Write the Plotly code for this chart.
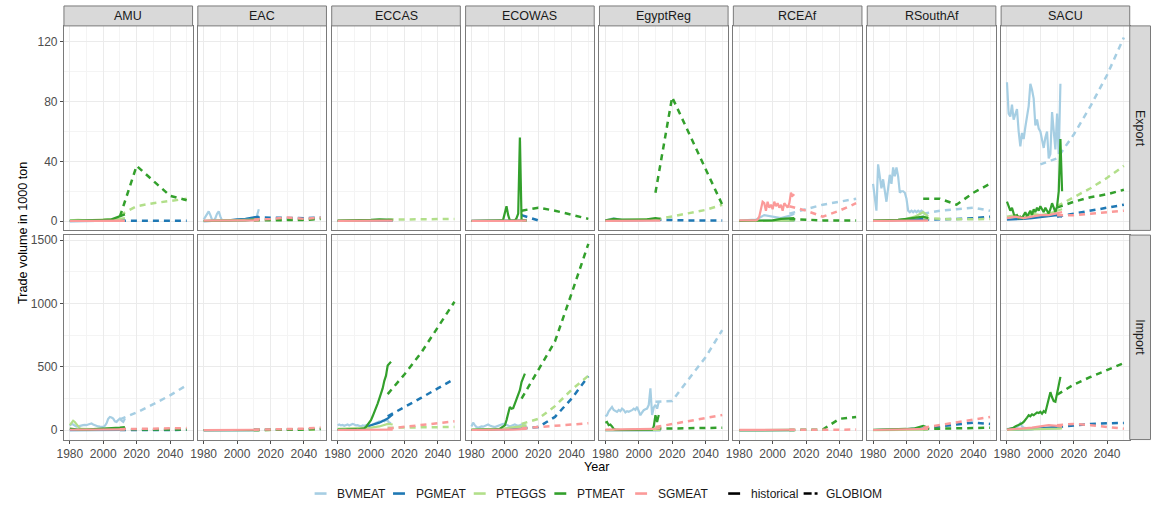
import plotly.graph_objects as go

# ---------------- categories ----------------
REGIONS = ["AMU", "EAC", "ECCAS", "ECOWAS", "EgyptReg", "RCEAf", "RSouthAf", "SACU"]
FLOWS = ["Export", "Import"]
FLOW_KEYS = {"Export": "EXP", "Import": "IMP"}
PRODUCTS = ["BVMEAT", "PGMEAT", "PTEGGS", "PTMEAT", "SGMEAT"]
TYPES = ["historical", "GLOBIOM"]

# x values (years)
HIST_YEARS = list(range(1980, 2014))                       # annual historical
HIST_YEARS_SPARSE = [1980, 1985, 1990, 1995, 2000, 2005, 2010, 2013]
GLOB_YEARS = [2000, 2010, 2020, 2030, 2040, 2050]

# tick labels
X_TICKS = [1980, 2000, 2020, 2040]
Y_TICKS_EXPORT = [0, 40, 80, 120]
Y_TICKS_IMPORT = [0, 500, 1000, 1500]

# ---------------- data: Export (1000 ton) ----------------
AMU_EXP_BVMEAT_H = [0.3, 0.2, 0.4, 0.3, 0.5, 0.4, 0.3, 0.4]
AMU_EXP_PGMEAT_H = [0.0, 0.1, 0.1, 0.2, 0.3, 0.4, 0.5, 0.4]
AMU_EXP_PGMEAT_G = [None, 0.3, 0.2, 0.2, 0.2, 0.2]
AMU_EXP_PTEGGS_H = [0.6, 0.9, 0.5, 0.7, 0.6, 0.9, 1.5, 2.0]
AMU_EXP_PTEGGS_G = [None, 4, 10, 12, 13.5, 15]
AMU_EXP_PTMEAT_H = [0.2, 0.3, 0.5, 0.4, 0.8, 1.2, 3.5, 4.5]
AMU_EXP_PTMEAT_G = [None, 3, 37, 27, 17, 14]
AMU_EXP_SGMEAT_H = [0.1, 0.2, 0.1, 0.1, 0.2, 0.2, 0.3, 0.2]

EAC_EXP_BVMEAT_H = [1, 3, 5, 6.5, 4, 1, 0.5, 2, 5, 6.5, 3, 0.5, 0.3, 0.3, 0.2, 0.3, 0.3,
                    0.2, 0.3, 0.3, 0.4, 0.3, 0.3, 0.4, 0.5, 0.4, 0.5, 0.6, 0.8, 1, 2, 1, 4, 8]
EAC_EXP_PGMEAT_H = [0.0, 0.1, 0.2, 0.5, 1.2, 1.5, 2.5, 3.0]
EAC_EXP_PGMEAT_G = [None, 2.5, 2.2, 2.2, 2.0, 2.5]
EAC_EXP_PTEGGS_H = [0.2, 0.3, 0.3, 0.4, 0.5, 0.6, 0.8, 1.0]
EAC_EXP_PTEGGS_G = [None, 1.0, 1.0, 1.5, 1.0, 2.0]
EAC_EXP_PTMEAT_H = [0.1, 0.1, 0.2, 0.2, 0.3, 0.5, 1.0, 1.2]
EAC_EXP_PTMEAT_G = [None, 0.5, 0.5, 0.5, 0.8, 1.5]
EAC_EXP_SGMEAT_H = [0.3, 0.3, 0.4, 0.3, 0.4, 0.5, 0.6, 0.5]
EAC_EXP_SGMEAT_G = [None, 1.0, 1.5, 2.5, 1.5, 2.5]

ECCAS_EXP_BVMEAT_H = [0.2, 0.2, 0.3, 0.2, 0.3, 0.3, 0.4, 0.3]
ECCAS_EXP_PGMEAT_H = [0.1, 0.1, 0.2, 0.2, 0.3, 0.3, 0.4, 0.4]
ECCAS_EXP_PTEGGS_H = [0.3, 0.3, 0.4, 0.4, 0.5, 0.6, 0.7, 0.8]
ECCAS_EXP_PTEGGS_G = [None, 1.0, 1.0, 1.0, 1.2, 1.5]
ECCAS_EXP_PTMEAT_H = [0.3, 0.3, 0.5, 0.5, 0.8, 1.2, 1.0, 0.8]
ECCAS_EXP_SGMEAT_H = [0.2, 0.2, 0.2, 0.2, 0.3, 0.3, 0.3, 0.3]

ECOWAS_EXP_BVMEAT_H = [0.3, 0.5, 0.3, 0.2, 0.2, 0.3, 0.2, 0.3]
ECOWAS_EXP_PGMEAT_H = [0.1, 0.1, 0.1, 0.2, 0.2, 0.3, 0.5, 0.5]
ECOWAS_EXP_PGMEAT_G = [None, 4, 0.5, None, None, None]
ECOWAS_EXP_PTEGGS_H = [0.1, 0.1, 0.1, 0.1, 0.2, 0.2, 0.3, 0.3]
ECOWAS_EXP_PTMEAT_H = [0.2, 0.2, 0.3, 0.2, 0.2, 0.3, 0.2, 0.2, 0.3, 0.2, 0.2, 0.3, 0.2, 0.2,
                       0.3, 0.2, 0.2, 0.3, 0.5, 1.0, 5, 10, 4, 0.5, 0.3, 0.3, 0.4, 2, 5, 56,
                       1, 0.5, 0.4, 0.3]
ECOWAS_EXP_PTMEAT_G = [None, 7, 9, 7, 4.5, 1.5]
ECOWAS_EXP_SGMEAT_H = [0.2, 0.3, 0.2, 0.2, 0.3, 0.2, 0.3, 0.3]

EgyptReg_EXP_BVMEAT_H = [0.3, 2.0, 0.5, 0.3, 0.4, 0.5, 0.6, 0.5]
EgyptReg_EXP_PGMEAT_H = [0.1, 0.2, 0.2, 0.3, 0.5, 0.8, 1.5, 1.0]
EgyptReg_EXP_PGMEAT_G = [None, 1.0, 0.5, 0.5, 0.5, 0.5]
EgyptReg_EXP_PTEGGS_H = [0.3, 0.5, 0.8, 0.6, 0.8, 1.0, 1.5, 1.2]
EgyptReg_EXP_PTEGGS_G = [None, 1.0, 3.0, 5.0, 7.5, 11.0]
EgyptReg_EXP_PTMEAT_H = [0.5, 1.5, 1.0, 0.8, 1.0, 1.2, 2.0, 1.5]
EgyptReg_EXP_PTMEAT_G = [None, 19, 83, 59, 35, 11]
EgyptReg_EXP_SGMEAT_H = [0.2, 0.3, 0.3, 0.2, 0.3, 0.3, 0.4, 0.3]

RCEAf_EXP_BVMEAT_H = [0.3, 0.5, 1.0, 4.0, 3.0, 2.0, 3.5, 5.0]
RCEAf_EXP_BVMEAT_G = [None, 5, 8, 11, 13, 15]
RCEAf_EXP_PGMEAT_H = [0.1, 0.1, 0.2, 0.2, 0.3, 0.3, 0.4, 0.3]
RCEAf_EXP_PTEGGS_H = [0.1, 0.2, 0.2, 0.3, 0.3, 0.4, 0.5, 0.4]
RCEAf_EXP_PTMEAT_H = [0.2, 0.2, 0.3, 0.3, 0.5, 1.5, 2.0, 2.0]
RCEAf_EXP_PTMEAT_G = [None, 1.5, 0.8, 0.5, 0.5, 0.5]
RCEAf_EXP_SGMEAT_H = [0.5, 0.5, 0.4, 0.5, 0.6, 0.5, 0.4, 0.5, 0.6, 0.5, 0.5, 1, 3, 8, 13, 12,
                      7, 13, 9, 11, 8, 13, 10, 12, 9, 11, 7, 12, 10, 9, 12, 19, 17, 18]
RCEAf_EXP_SGMEAT_G = [None, 10, 7, 3, 7, 12]

RSouthAf_EXP_BVMEAT_H = [25, 14, 7, 38, 30, 22, 28, 20, 13, 22, 31, 25, 36, 30, 36, 30, 19,
                         20, 20, 19, 15, 7, 6, 7, 6, 7, 6, 7, 6, 7, 6, 5, 5, 5]
RSouthAf_EXP_BVMEAT_G = [None, 5, 7, 8, 9, 7]
RSouthAf_EXP_PGMEAT_H = [0.2, 0.3, 0.3, 0.5, 0.8, 1.0, 1.5, 1.2]
RSouthAf_EXP_PGMEAT_G = [None, 1.0, 1.0, 1.5, 2.0, 3.0]
RSouthAf_EXP_PTEGGS_H = [0.3, 0.5, 0.5, 0.8, 1.5, 3.0, 6.0, 3.0]
RSouthAf_EXP_PTEGGS_G = [None, 2.0, 1.5, 1.2, 1.2, 1.5]
RSouthAf_EXP_PTMEAT_H = [0.3, 0.3, 0.5, 0.8, 1.5, 2.5, 3.0, 2.0]
RSouthAf_EXP_PTMEAT_G = [None, 15, 15, 11, 19, 25]
RSouthAf_EXP_SGMEAT_H = [0.2, 0.2, 0.3, 0.3, 0.3, 0.4, 0.4, 0.3]

SACU_EXP_BVMEAT_H = [93, 72, 70, 78, 68, 72, 75, 60, 50, 59, 55, 63, 70, 77, 92, 88, 82, 64,
                     68, 62, 60, 55, 49, 56, 60, 42, 45, 73, 62, 48, 72, 45, 92, None]
SACU_EXP_BVMEAT_G = [38, 42, 58, 77, 98, 123]
SACU_EXP_PGMEAT_H = [1.0, 1.0, 1.5, 2.0, 2.5, 3.0, 4.0, 3.0]
SACU_EXP_PGMEAT_G = [None, 3, 5, 7, 9, 11]
SACU_EXP_PTEGGS_H = [3, 4, 2, 5, 4, 5, 7, 8]
SACU_EXP_PTEGGS_G = [None, 10, 16, 22, 29, 37]
SACU_EXP_PTMEAT_H = [13, 10, 7, 9, 5, 3, 4, 2, 3, 2, 4, 6, 3, 5, 7, 4, 8, 6, 9, 7, 10, 8, 6,
                     9, 7, 5, 8, 12, 9, 6, 10, 20, 55, 20]
SACU_EXP_PTMEAT_G = [None, 9, 13, 16, 18, 21]
SACU_EXP_SGMEAT_H = [2, 3, 2, 3, 4, 4, 5, 6]
SACU_EXP_SGMEAT_G = [None, 4, 4, 5, 6, 7]

# ---------------- data: Import (1000 ton) ----------------
AMU_IMP_BVMEAT_H = [35, 50, 45, 35, 28, 30, 35, 38, 40, 42, 40, 45, 50, 53, 45, 38, 32, 30,
                    28, 27, 26, 35, 55, 90, 105, 100, 92, 70, 66, 80, 92, 75, 66, 90]
AMU_IMP_BVMEAT_G = [None, 85, 140, 205, 275, 355]
AMU_IMP_PGMEAT_H = [0.5, 0.5, 1, 1, 1.5, 2, 2, 2]
AMU_IMP_PGMEAT_G = [None, 2, 2, 3, 3, 3]
AMU_IMP_PTEGGS_H = [40, 60, 75, 65, 45, 25, 15, 10, 9, 10, 8, 9, 10, 8, 9, 10, 9, 8, 10, 9,
                    8, 9, 10, 9, 8, 10, 9, 10, 8, 9, 10, 9, 10, 9]
AMU_IMP_PTMEAT_H = [12, 5, 5, 8, 10, 12, 20, 25]
AMU_IMP_PTMEAT_G = [None, 10, 5, 5, 5, 5]
AMU_IMP_SGMEAT_H = [4, 5, 5, 6, 5, 6, 6, 7]
AMU_IMP_SGMEAT_G = [None, 8, 10, 13, 15, 17]

EAC_IMP_BVMEAT_H = [1.0, 1.2, 0.8, 1.0, 1.1, 1.3, 1.5, 1.4]
EAC_IMP_PGMEAT_H = [0.2, 0.3, 0.3, 0.4, 0.5, 0.6, 0.8, 1.0]
EAC_IMP_PGMEAT_G = [None, 3, 4, 5, 6, 8]
EAC_IMP_PTEGGS_H = [2, 2.5, 1.5, 0.5, 0.5, 0.6, 0.8, 1.0]
EAC_IMP_PTEGGS_G = [None, 2, 2, 3, 4, 5]
EAC_IMP_PTMEAT_H = [0.5, 0.5, 0.6, 0.8, 1.0, 1.2, 1.5, 2.0]
EAC_IMP_PTMEAT_G = [None, 2, 2, 3, 5, 12]
EAC_IMP_SGMEAT_H = [1.5, 1.8, 2.0, 2.2, 2.5, 3.0, 3.5, 4.0]
EAC_IMP_SGMEAT_G = [None, 4, 5, 8, 12, 22]

ECCAS_IMP_BVMEAT_H = [40, 45, 38, 42, 35, 40, 45, 38, 42, 50, 45, 38, 40, 35, 30, 38, 35, 40,
                      45, 42, 40, 45, 50, 55, 60, 70, 65, 75, 70, 80, 75, 60, 55, None]
ECCAS_IMP_PGMEAT_H = [2, 3, 5, 10, 40, 60, 92, 125]
ECCAS_IMP_PGMEAT_G = [None, 110, 180, 255, 330, 405]
ECCAS_IMP_PTEGGS_H = [10, 12, 15, 18, 20, 30, 50, 45]
ECCAS_IMP_PTEGGS_G = [None, 20, 22, 24, 25, 26]
ECCAS_IMP_PTMEAT_H = [6, 5, 7, 8, 6, 5, 7, 8, 6, 7, 8, 9, 7, 8, 10, 12, 15, 26, 45, 60, 80,
                      110, 140, 170, 210, 250, 290, 330, 390, 430, 510, 530, 540, None]
ECCAS_IMP_PTMEAT_G = [None, 285, 440, 610, 810, 1013]
ECCAS_IMP_SGMEAT_H = [2, 2, 2, 2, 3, 3, 4, 5]
ECCAS_IMP_SGMEAT_G = [None, 12, 28, 42, 55, 70]

ECOWAS_IMP_BVMEAT_H = [30, 60, 40, 25, 20, 25, 30, 28, 35, 40, 45, 38, 30, 28, 25, 30, 35,
                       40, 45, 50, 48, 40, 35, 30, 35, 40, 45, 40, 35, 40, 45, 40, 38, None]
ECOWAS_IMP_PGMEAT_H = [2, 3, 5, 5, 8, 10, 15, 20]
ECOWAS_IMP_PGMEAT_G = [None, 15, 25, 105, 250, 425]
ECOWAS_IMP_PTEGGS_H = [5, 5, 8, 10, 15, 20, 30, 40]
ECOWAS_IMP_PTEGGS_G = [None, 50, 90, 190, 320, 430]
ECOWAS_IMP_PTMEAT_H = [4, 5, 4, 6, 5, 4, 5, 6, 5, 4, 5, 6, 5, 6, 7, 6, 8, 10, 20, 30, 39, 80,
                       140, 184, 170, 175, 210, 250, 280, 316, 380, 421, 447, None]
ECOWAS_IMP_PTMEAT_G = [None, 250, 480, 700, 1080, 1470]
ECOWAS_IMP_SGMEAT_H = [2, 2, 3, 3, 4, 5, 8, 10]
ECOWAS_IMP_SGMEAT_G = [None, 15, 25, 32, 42, 55]

EgyptReg_IMP_BVMEAT_H = [110, 118, 150, 170, 184, 160, 150, 145, 160, 150, 171, 160, 140,
                         150, 145, 150, 158, 170, 160, 184, 150, 118, 140, 158, 165, 171,
                         200, 330, 120, 180, 200, 170, 224, None]
EgyptReg_IMP_BVMEAT_G = [None, 225, 230, 405, 575, 790]
EgyptReg_IMP_PGMEAT_H = [0.3, 0.4, 0.5, 0.4, 0.5, 0.6, 0.5, 0.6]
EgyptReg_IMP_PTEGGS_H = [1, 1, 1, 1, 2, 2, 3, 3]
EgyptReg_IMP_PTMEAT_H = [60, 66, 40, 45, 30, 10, 5, 2, 2, 2, 2, 3, 2, 2, 3, 2, 2, 3, 2, 2, 3,
                         2, 2, 3, 2, 2, 3, 2, 5, 30, 118, 66, 120, None]
EgyptReg_IMP_PTMEAT_G = [None, 12, 15, 15, 18, 20]
EgyptReg_IMP_SGMEAT_H = [5, 5, 6, 5, 6, 8, 10, 15]
EgyptReg_IMP_SGMEAT_G = [None, 25, 50, 75, 95, 120]

RCEAf_IMP_BVMEAT_H = [0.5, 0.6, 0.8, 1.0, 1.2, 1.5, 2.0, 2.0]
RCEAf_IMP_PGMEAT_H = [0.2, 0.2, 0.3, 0.3, 0.4, 0.5, 0.6, 0.6]
RCEAf_IMP_PTEGGS_H = [0.3, 0.3, 0.4, 0.4, 0.5, 0.6, 0.8, 0.7]
RCEAf_IMP_PTMEAT_H = [0.5, 0.5, 0.8, 1.0, 1.5, 2.0, 3.0, 2.5]
RCEAf_IMP_PTMEAT_G = [None, 2, 2, 5, 90, 105]
RCEAf_IMP_SGMEAT_H = [3, 3, 3, 3, 3, 4, 5, 4]
RCEAf_IMP_SGMEAT_G = [None, 4, 5, 5, 5, 5]

RSouthAf_IMP_BVMEAT_H = [2, 2, 3, 3, 4, 5, 6, 5]
RSouthAf_IMP_PGMEAT_H = [2, 2, 3, 5, 8, 10, 15, 20]
RSouthAf_IMP_PGMEAT_G = [None, 15, 30, 45, 60, 50]
RSouthAf_IMP_PTEGGS_H = [1, 1, 2, 2, 3, 4, 5, 5]
RSouthAf_IMP_PTMEAT_H = [3, 3, 5, 8, 10, 15, 35, 20]
RSouthAf_IMP_PTMEAT_G = [None, 10, 12, 15, 18, 20]
RSouthAf_IMP_SGMEAT_H = [2, 3, 3, 4, 5, 6, 8, 10]
RSouthAf_IMP_SGMEAT_G = [None, 20, 40, 60, 80, 105]

SACU_IMP_BVMEAT_H = [10, 12, 15, 18, 20, 22, 25, 35, 55, 30, 20, 18, 15, 14, 15, 16, 15, 14,
                     13, 15, 14, 13, 12, 14, 15, 16, 15, 14, 13, 15, 16, 15, 14, None]
SACU_IMP_PGMEAT_H = [2, 3, 5, 8, 15, 20, 25, 30]
SACU_IMP_PGMEAT_G = [None, 25, 40, 50, 55, 58]
SACU_IMP_PTEGGS_H = [2, 3, 5, 5, 8, 10, 12, 15]
SACU_IMP_PTMEAT_H = [5, 8, 10, 13, 20, 30, 35, 40, 50, 55, 66, 80, 100, 118, 110, 125, 118,
                     130, 140, 135, 145, 130, 150, 140, 200, 260, 300, 260, 230, 225, 300,
                     370, 421, None]
SACU_IMP_PTMEAT_G = [None, 280, 360, 420, 475, 530]
SACU_IMP_SGMEAT_H = [5, 8, 15, 20, 30, 40, 35, 30]
SACU_IMP_SGMEAT_G = [None, 40, 50, 40, 25, 12]

# ---------------- styling ----------------
COLORS = {"BVMEAT": "#A6CEE3", "PGMEAT": "#1F78B4", "PTEGGS": "#B2DF8A",
          "PTMEAT": "#33A02C", "SGMEAT": "#FB9A99"}
DASH = "6px,5px"
FONT = "Liberation Sans, Arial, sans-serif"
W, H = 1151, 505
PANEL_LEFT0, PANEL_STEP, PANEL_W = 57.3, 134.7, 129.4
ROW_TOP = {"Export": 24.0, "Import": 234.0}
PANEL_H = 205.3
STRIP_H = 20.0
BORDER = "#7A7A7A"


def px(x):
    return x / W


def py(y):
    return 1 - y / H


def years_for(values, kind):
    if kind == "G":
        return GLOB_YEARS
    return HIST_YEARS if len(values) == len(HIST_YEARS) else HIST_YEARS_SPARSE


fig = go.Figure()
layout = {}
shapes = []
annotations = []

for r, flow in enumerate(FLOWS):
    for c, region in enumerate(REGIONS):
        idx = r * 8 + c + 1
        xs = "" if idx == 1 else str(idx)
        left = PANEL_LEFT0 + c * PANEL_STEP
        top = ROW_TOP[flow]
        if flow == "Export":
            yrange, yticks, yminor = [-6.2, 130.7], Y_TICKS_EXPORT, [20, 60, 100]
        else:
            yrange, yticks, yminor = [-73.5, 1539], Y_TICKS_IMPORT, [250, 750, 1250]
        bottom_row = (r == 1)
        left_col = (c == 0)
        layout["xaxis" + xs] = dict(
            domain=[px(left), px(left + PANEL_W)], anchor="y" + xs,
            range=[1976.5, 2053.5], tickvals=X_TICKS, showticklabels=bottom_row,
            ticks="outside" if bottom_row else "", ticklen=3, tickcolor="#4D4D4D",
            tickfont=dict(family=FONT, size=12, color="#4D4D4D"),
            showgrid=True, gridcolor="#EBEBEB", gridwidth=1, zeroline=False,
            minor=dict(tickvals=[1990, 2010, 2030, 2050], showgrid=True,
                       gridcolor="#F4F4F4", gridwidth=1, ticks=""),
            showline=True, mirror=True, linecolor=BORDER, linewidth=1,
            fixedrange=True)
        layout["yaxis" + xs] = dict(
            domain=[py(top + PANEL_H), py(top)], anchor="x" + xs,
            range=yrange, tickvals=yticks, showticklabels=left_col,
            ticks="outside" if left_col else "", ticklen=3, tickcolor="#4D4D4D",
            tickfont=dict(family=FONT, size=12, color="#4D4D4D"),
            showgrid=True, gridcolor="#EBEBEB", gridwidth=1, zeroline=False,
            minor=dict(tickvals=yminor, showgrid=True, gridcolor="#F4F4F4",
                       gridwidth=1, ticks=""),
            showline=True, mirror=True, linecolor=BORDER, linewidth=1,
            fixedrange=True)

        for prod in PRODUCTS:
            for kind in ("H", "G"):
                name = f"{region}_{FLOW_KEYS[flow]}_{prod}_{kind}"
                vals = globals().get(name)
                if vals is None:
                    continue
                fig.add_trace(go.Scatter(
                    x=years_for(vals, kind), y=vals, mode="lines",
                    line=dict(color=COLORS[prod], width=2.2 if kind == "H" else 2.5,
                              dash="solid" if kind == "H" else DASH),
                    xaxis="x" + xs, yaxis="y" + xs, showlegend=False,
                    hoverinfo="skip", connectgaps=False))

        # top strips (one per column, first row only)
        if r == 0:
            shapes.append(dict(type="rect", xref="paper", yref="paper",
                               x0=px(left), x1=px(left + PANEL_W),
                               y0=py(top), y1=py(top - STRIP_H),
                               fillcolor="#D9D9D9", line=dict(color=BORDER, width=1)))
            annotations.append(dict(text=region, xref="paper", yref="paper",
                                    x=px(left + PANEL_W / 2), y=py(top - STRIP_H / 2),
                                    showarrow=False, xanchor="center", yanchor="middle",
                                    font=dict(family=FONT, size=12.5, color="#1A1A1A")))

    # right strips
    right = PANEL_LEFT0 + 7 * PANEL_STEP + PANEL_W
    top = ROW_TOP[flow]
    shapes.append(dict(type="rect", xref="paper", yref="paper",
                       x0=px(right), x1=px(1150.5), y0=py(top + PANEL_H), y1=py(top),
                       fillcolor="#D9D9D9", line=dict(color=BORDER, width=1)))
    annotations.append(dict(text=flow, xref="paper", yref="paper",
                            x=px((right + 1150.5) / 2), y=py(top + PANEL_H / 2),
                            textangle=90, showarrow=False, xanchor="center",
                            yanchor="middle",
                            font=dict(family=FONT, size=12.5, color="#1A1A1A")))

# axis titles
annotations.append(dict(text="Year", xref="paper", yref="paper", x=px(593), y=py(467),
                        showarrow=False, xanchor="center", yanchor="middle",
                        font=dict(family=FONT, size=12.6, color="#000000")))
annotations.append(dict(text="Trade volume in 1000 ton", xref="paper", yref="paper",
                        x=px(16), y=py(232), textangle=-90, showarrow=False,
                        xanchor="center", yanchor="middle",
                        font=dict(family=FONT, size=12.6, color="#000000")))

# legend (manual, ggplot style: colour keys, gap, then linetype keys), centred under panels
LEGEND_Y = 493.5
legend_items = [
    ("BVMEAT", COLORS["BVMEAT"], "solid", 309.5, 12.0, 330.2),
    ("PGMEAT", COLORS["PGMEAT"], "solid", 388.4, 12.0, 409.2),
    ("PTEGGS", COLORS["PTEGGS"], "solid", 469.6, 12.0, 490.4),
    ("PTMEAT", COLORS["PTMEAT"], "solid", 550.7, 12.0, 571.7),
    ("SGMEAT", COLORS["SGMEAT"], "solid", 632.0, 12.0, 652.9),
    ("historical", "#000000", "solid", 725.6, 12.0, 746.4),
    ("GLOBIOM", "#000000", "8px,3px", 801.5, 14.0, 822.0),
]
for label, col, dash, kx, klen, tx in legend_items:
    shapes.append(dict(type="line", xref="paper", yref="paper",
                       x0=px(kx), x1=px(kx + klen), y0=py(LEGEND_Y), y1=py(LEGEND_Y),
                       line=dict(color=col, width=2.6, dash=dash)))
    annotations.append(dict(text=label, xref="paper", yref="paper", x=px(tx), y=py(LEGEND_Y),
                            showarrow=False, xanchor="left", yanchor="middle",
                            font=dict(family=FONT, size=12, color="#1A1A1A")))

fig.update_layout(
    width=W, height=H, autosize=False,
    margin=dict(l=0, r=0, t=0, b=0),
    paper_bgcolor="white", plot_bgcolor="white",
    showlegend=False, shapes=shapes, annotations=annotations,
    **layout)

fig.write_html("out.html", config={"displayModeBar": False})
